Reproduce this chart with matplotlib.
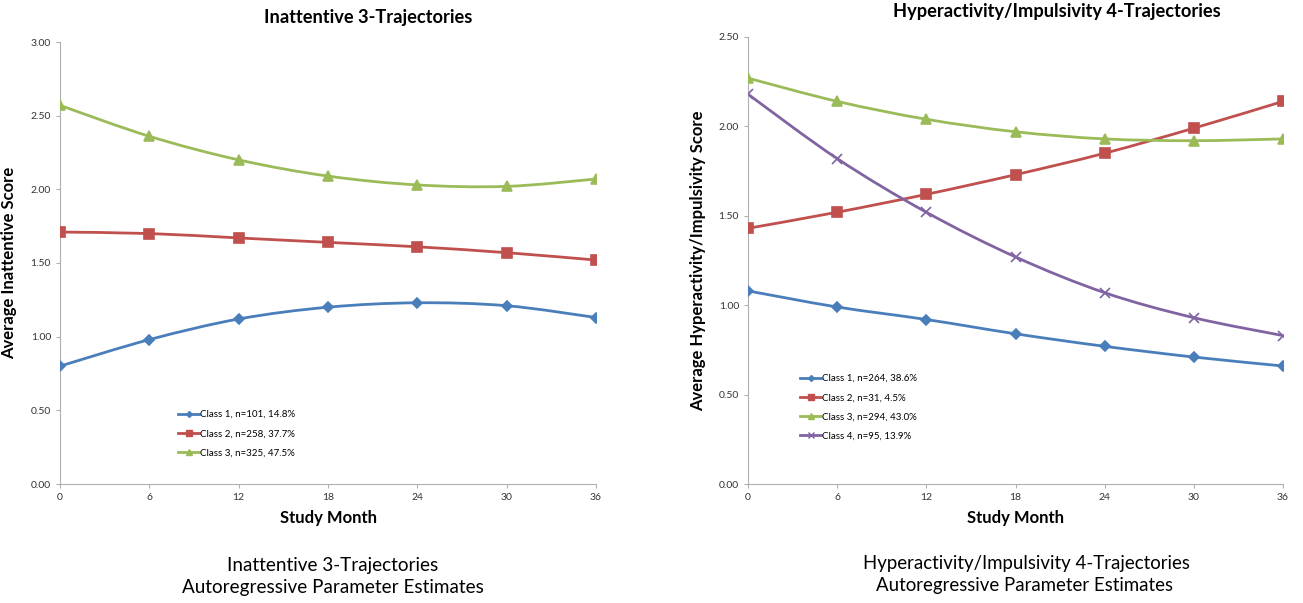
import numpy as np
import matplotlib
matplotlib.use("Agg")
import matplotlib.pyplot as plt
from matplotlib.path import Path
from matplotlib.patches import PathPatch
from matplotlib.lines import Line2D

plt.rcParams['font.family'] = ['Lato', 'DejaVu Sans']

# data
months = [0, 6, 12, 18, 24, 30, 36]

inatt_c1 = [0.80, 0.98, 1.12, 1.20, 1.23, 1.21, 1.13]
inatt_c2 = [1.71, 1.70, 1.67, 1.64, 1.61, 1.57, 1.52]
inatt_c3 = [2.57, 2.36, 2.20, 2.09, 2.03, 2.02, 2.07]
inatt_labels = ['Class 1, n=101, 14.8%', 'Class 2, n=258, 37.7%', 'Class 3, n=325, 47.5%']

hyp_c1 = [1.08, 0.99, 0.92, 0.84, 0.77, 0.71, 0.66]
hyp_c2 = [1.43, 1.52, 1.62, 1.73, 1.85, 1.99, 2.14]
hyp_c3 = [2.27, 2.14, 2.04, 1.97, 1.93, 1.92, 1.93]
hyp_c4 = [2.18, 1.82, 1.52, 1.27, 1.07, 0.93, 0.83]
hyp_labels = ['Class 1, n=264, 38.6%', 'Class 2, n=31, 4.5%', 'Class 3, n=294, 43.0%', 'Class 4, n=95, 13.9%']

colors = ['#4a7ebb', '#c0504d', '#9bbb59', '#8064a2']
markers = ['D', 's', '^', 'x']
msizes = [5, 6.5, 7, 7]

W, H = 1303, 603


def smooth_line(ax, x, y, color):
    # excel-style smoothed line: catmull-rom segments as cubic bezier
    pts = np.column_stack([x, y]).astype(float)
    n = len(pts)
    verts = [pts[0]]
    codes = [Path.MOVETO]
    for i in range(n - 1):
        p0 = pts[max(i - 1, 0)]
        p1 = pts[i]
        p2 = pts[i + 1]
        p3 = pts[min(i + 2, n - 1)]
        verts += [p1 + (p2 - p0) / 6, p2 - (p3 - p1) / 6, p2]
        codes += [Path.CURVE4] * 3
    ax.add_patch(PathPatch(Path(verts, codes), fill=False, edgecolor=color, lw=2, zorder=2))


def draw_panel(ax, series, labels, ymax, ylabel, ylab_x, leg_anchor):
    handles = []
    for k, ys in enumerate(series):
        smooth_line(ax, months, ys, colors[k])
        ax.plot(months, ys, linestyle='none', marker=markers[k], ms=msizes[k],
                color=colors[k], mew=1.2, zorder=3)
        handles.append(Line2D([], [], color=colors[k], lw=2, marker=markers[k],
                              ms=msizes[k] - 2, mew=1.0, label=labels[k]))
    ax.set_xlim(0, 36)
    ax.set_ylim(0, ymax)
    ax.set_xticks(months)
    ax.set_yticks(np.arange(0, ymax + 0.01, 0.5))
    ax.yaxis.set_major_formatter(matplotlib.ticker.FormatStrFormatter('%.2f'))
    for s in ['top', 'right']:
        ax.spines[s].set_visible(False)
    for s in ['left', 'bottom']:
        ax.spines[s].set_color('#b0b0b0')
    ax.tick_params(colors='#b0b0b0', labelcolor='#333333', labelsize=7.5, length=3)
    ax.set_xlabel('Study Month', fontsize=12, fontweight='bold', labelpad=6)
    ax.set_ylabel(ylabel, fontsize=12, fontweight='bold')
    ax.yaxis.set_label_coords(ylab_x, 0.5)
    ax.legend(handles=handles, loc='upper left', bbox_to_anchor=leg_anchor, frameon=False,
              fontsize=7, handlelength=2.2, handletextpad=0.05, labelspacing=1.05,
              borderaxespad=0, borderpad=0)


def fit_text(fig, txt, width_px):
    # scale font so the rendered text is width_px wide
    r = fig.canvas.get_renderer()
    w = txt.get_window_extent(r).width
    txt.set_fontsize(txt.get_fontsize() * width_px / w)
    return txt.get_fontsize()


fig = plt.figure(figsize=(13.03, 6.03), dpi=100)
ax1 = fig.add_axes([60 / W, 1 - 484 / H, 536 / W, 442 / H])
ax2 = fig.add_axes([748 / W, 1 - 484 / H, 535 / W, 447 / H])

draw_panel(ax1, [inatt_c1, inatt_c2, inatt_c3], inatt_labels, 3.0,
           'Average Inattentive Score', -0.080, (0.22, 0.167))
draw_panel(ax2, [hyp_c1, hyp_c2, hyp_c3, hyp_c4], hyp_labels, 2.5,
           'Average Hyperactivity/Impulsivity Score', -0.079, (0.097, 0.246))

t1 = fig.text(368 / W, 1 - 17 / H, 'Inattentive 3-Trajectories', ha='center', va='center',
              fontsize=11, fontweight='bold')
fit_text(fig, t1, 207)
t2 = fig.text(1057 / W, 1 - 12 / H, 'Hyperactivity/Impulsivity 4-Trajectories', ha='center',
              va='center', fontsize=11, fontweight='bold')
fit_text(fig, t2, 326)

c1b = fig.text(333 / W, 1 - 587 / H, 'Autoregressive Parameter Estimates', ha='center',
               va='center', fontsize=13)
fs = fit_text(fig, c1b, 300)
fig.text(333 / W, 1 - 565 / H, 'Inattentive 3-Trajectories', ha='center', va='center', fontsize=fs)

c2a = fig.text(1026 / W, 1 - 563 / H, 'Hyperactivity/Impulsivity 4-Trajectories', ha='center',
               va='center', fontsize=13)
fs = fit_text(fig, c2a, 326)
fig.text(1025 / W, 1 - 585 / H, 'Autoregressive Parameter Estimates', ha='center', va='center',
         fontsize=fs)

fig.savefig('out.png', dpi=100)
